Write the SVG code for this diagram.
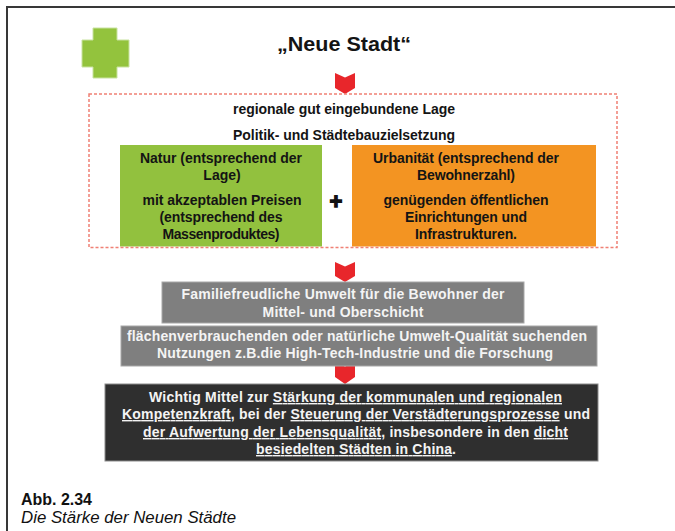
<svg xmlns="http://www.w3.org/2000/svg" width="675" height="531" viewBox="0 0 675 531">
<style>
.t{font-family:"Liberation Sans",Arial,sans-serif;font-weight:bold;font-size:14px;text-anchor:middle}
.dk{fill:#141414}
.wt{fill:#f4f4f4}
.u{text-decoration:underline}
.arrow{fill:#e8262b}
</style>
<rect width="675" height="531" fill="#ffffff"/>
<path d="M7,531 V7 H675" fill="none" stroke="#383838" stroke-width="2"/>
<g id="cross">
<path d="M93,28 H117 V40 H129 V67 H117 V78 H93 V67 H82 V40 H93 Z" fill="#93c33d" stroke="#c8e2a0" stroke-width="1"/>
</g>
<g id="title">
<text x="344" y="51" class="t dk" style="font-size:21px" textLength="134" lengthAdjust="spacingAndGlyphs">„Neue Stadt“</text>
</g>
<g id="connectors">
<path class="arrow" d="M335,73 L345,77.5 L355,73 L355,88 L345,94 L335,88 Z"/>
<path class="arrow" d="M335,262 L345,266.5 L355,262 L355,276 L345,282 L335,276 Z"/>
<path class="arrow" d="M335,362 L345,366.5 L355,362 L355,377 L345,384 L335,377 Z"/>
</g>
<g id="nature">
<rect x="120" y="145" width="202" height="101.5" fill="#92c13e"/>
<text class="t dk" x="221" y="163" textLength="162">Natur (entsprechend der</text>
<text class="t dk" x="222" y="180">Lage)</text>
<text class="t dk" x="222" y="205" textLength="159">mit akzeptablen Preisen</text>
<text class="t dk" x="221" y="222" textLength="123">(entsprechend des</text>
<text class="t dk" x="221" y="239" textLength="117">Massenproduktes)</text>
</g>
<g id="plus">
<text x="336" y="209" class="t" style="font-size:22px;fill:#111;stroke:#111;stroke-width:1.3">+</text>
</g>
<g id="urban">
<rect x="352" y="145" width="244" height="101.5" fill="#f39422"/>
<text class="t dk" x="466" y="163" textLength="186">Urbanität (entsprechend der</text>
<text class="t dk" x="466" y="180" textLength="98">Bewohnerzahl)</text>
<text class="t dk" x="466" y="205" textLength="165">genügenden öffentlichen</text>
<text class="t dk" x="466" y="222" textLength="122">Einrichtungen und</text>
<text class="t dk" x="466" y="239" textLength="102">Infrastrukturen.</text>
</g>
<g id="location">
<rect x="89" y="94" width="528" height="153.5" fill="none" stroke="#f08074" stroke-width="1.5" stroke-dasharray="3 2"/>
<text class="t dk" x="344" y="114" textLength="222">regionale gut eingebundene Lage</text>
<text class="t dk" x="344" y="140" textLength="222">Politik- und Städtebauzielsetzung</text>
</g>
<g id="family">
<rect x="162" y="282" width="362" height="41" fill="#7f7f7f" stroke="#a8a8a8" stroke-width="1"/>
<text class="t wt" x="343" y="299" textLength="323">Familiefreudliche Umwelt für die Bewohner der</text>
<text class="t wt" x="343" y="317" textLength="161">Mittel- und Oberschicht</text>
</g>
<g id="usage">
<rect x="121" y="326" width="476" height="40" fill="#7f7f7f" stroke="#a8a8a8" stroke-width="1"/>
<text class="t wt" x="357" y="341" textLength="460">flächenverbrauchenden oder natürliche Umwelt-Qualität suchenden</text>
<text class="t wt" x="355" y="358" textLength="396">Nutzungen z.B.die High-Tech-Industrie und die Forschung</text>
</g>
<g id="means">
<rect x="105" y="384" width="493" height="77" fill="#2f2f2f" stroke="#8c8c8c" stroke-width="1"/>
<text class="t wt" x="355.5" y="402" textLength="413">Wichtig Mittel zur <tspan class="u">Stärkung der kommunalen und regionalen</tspan></text>
<text class="t wt" x="356" y="419" textLength="468"><tspan class="u">Kompetenzkraft,</tspan> bei der <tspan class="u">Steuerung der Verstädterungsprozesse</tspan> und</text>
<text class="t wt" x="355.5" y="437" textLength="425"><tspan class="u">der Aufwertung der Lebensqualität</tspan>, insbesondere in den <tspan class="u">dicht</tspan></text>
<text class="t wt" x="356" y="454" textLength="200"><tspan class="u">besiedelten Städten in China</tspan>.</text>
</g>
<g id="caption">
<text x="21" y="505" style="font-family:'Liberation Sans',Arial,sans-serif;font-weight:bold;font-size:16px;fill:#111" textLength="71" lengthAdjust="spacingAndGlyphs">Abb. 2.34</text>
<text x="21" y="523" style="font-family:'Liberation Sans',Arial,sans-serif;font-style:italic;font-size:16px;fill:#111" textLength="215" lengthAdjust="spacingAndGlyphs">Die Stärke der Neuen Städte</text>
</g>
</svg>
